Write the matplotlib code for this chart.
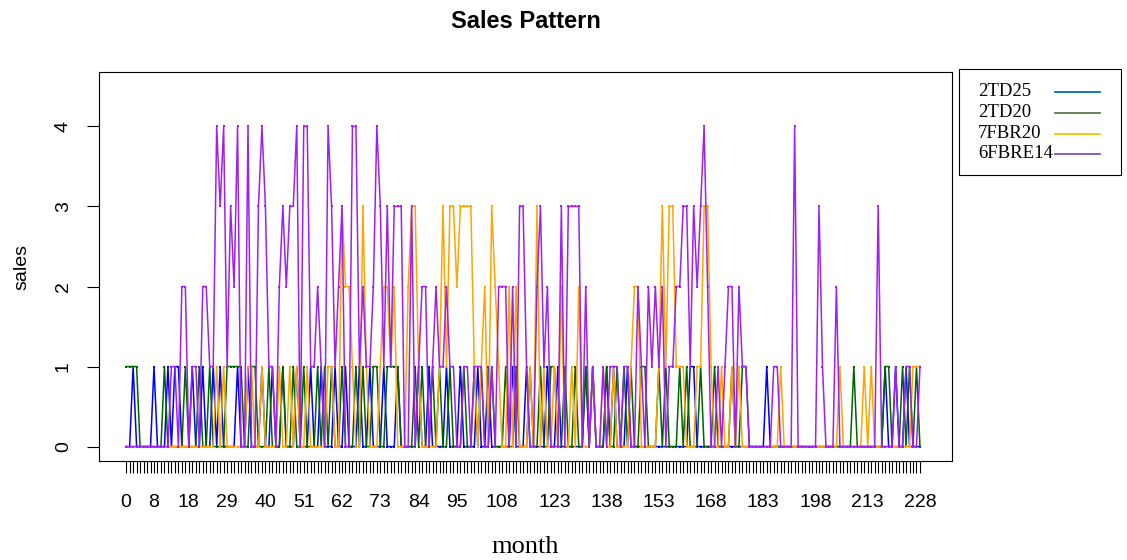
import matplotlib
matplotlib.use("Agg")
import matplotlib.pyplot as plt
from matplotlib.lines import Line2D
from matplotlib.patches import Rectangle
import numpy as np

# monthly sales for four items, months 0..228
month = np.arange(229)

td25 = [0,0,1,0,0,0,0,0,1,0, 0,0,1,0,1,1,0,0,0,1, 0,0,1,0,0,1,0,1,0,0,
        0,0,1,0,0,1,0,0,0,1, 0,0,1,0,0,1,0,0,0,1, 0,0,0,1,0,0,1,0,0,0,
        1,0,0,1,0,0,0,1,0,0, 1,0,0,0,1,0,0,0,1,0, 0,0,0,0,1,0,0,1,0,0,
        0,0,1,0,0,0,1,0,0,0, 0,1,0,0,1,0,0,0,0,0, 0,1,0,0,0,1,0,0,0,0,
        0,1,0,0,1,0,0,0,0,0, 0,0,1,0,1,0,0,0,1,0, 1,0,0,0,1,0,0,0,0,0,
        0,0,0,0,0,0,0,0,0,0, 0,0,1,1,0,0,0,0,0,0, 0,0,0,0,0,0,0,0,0,0,
        0,0,0,0,1,0,0,0,0,0, 0,0,0,0,0,0,0,0,0,0, 0,0,0,0,0,0,0,0,0,0,
        0,0,0,0,0,0,0,0,1,0, 0,1,0,0,1,0,0,0,0]

td20 = [1,1,1,1,0,0,0,0,0,0, 0,1,0,0,0,0,0,1,0,0, 0,1,0,0,1,0,0,0,0,1,
        1,1,1,1,0,0,1,1,0,0, 0,1,0,0,0,1,0,0,1,0, 0,1,0,0,0,1,0,1,0,1,
        0,0,1,0,0,0,1,0,1,0, 0,1,1,0,0,1,1,1,1,0, 0,0,0,1,0,1,0,0,1,0,
        1,0,0,1,0,0,0,1,0,0, 1,0,1,0,0,1,0,0,0,1, 0,0,1,0,0,0,1,0,0,1,
        0,0,1,1,0,0,1,0,0,1, 0,0,1,0,1,0,0,0,1,0, 0,1,0,1,0,1,0,0,1,1,
        0,0,0,1,0,1,0,0,0,1, 0,1,0,0,0,1,0,0,0,1, 0,0,0,0,1,0,0,1,1,0,
        0,0,0,0,0,0,0,0,0,0, 0,0,0,0,0,0,0,0,0,0, 0,0,0,0,0,0,0,0,0,1,
        0,0,0,0,0,0,0,0,1,1, 0,0,0,1,0,1,0,1,0]

fbr20 = [0,0,0,0,0,0,0,0,0,0, 0,0,0,0,0,0,0,0,0,0, 0,0,0,0,0,0,1,0,1,0,
         0,0,0,0,0,1,1,0,0,1, 0,0,0,0,1,0,0,1,0,1, 0,0,1,0,0,0,0,0,1,1,
         0,0,3,2,2,1,0,0,3,1, 0,0,0,1,2,2,1,2,0,0, 0,2,3,3,1,0,0,0,0,0,
         1,3,1,3,3,2,3,3,3,3, 1,0,1,2,0,3,2,1,0,0, 2,0,2,0,0,0,1,0,3,0,
         1,0,0,1,0,2,0,0,1,0, 2,0,0,0,1,0,0,1,0,0, 1,0,0,0,0,1,2,2,0,0,
         0,0,0,1,3,1,3,3,1,1, 1,0,0,0,1,1,3,3,1,0, 0,1,0,0,1,0,1,0,0,0,
         0,0,0,0,0,0,0,0,1,0, 0,0,0,0,0,0,0,0,0,0, 0,0,0,0,0,1,0,0,0,0,
         0,0,1,0,1,0,0,0,0,0, 0,0,0,0,0,0,1,1,1]

fbre14 = [0,0,0,0,0,0,0,0,0,0, 0,0,0,1,1,0,2,2,0,1, 1,0,2,2,1,1,4,3,4,1,
          3,2,4,0,0,4,0,0,3,4, 3,1,1,0,2,3,2,3,3,4, 0,4,4,1,1,2,1,0,4,3,
          1,2,3,0,0,4,4,1,2,1, 1,2,4,3,1,3,1,3,3,3, 0,0,3,0,1,2,2,0,1,2,
          1,1,2,1,1,0,0,1,1,0, 1,1,1,0,0,1,0,2,2,2, 0,2,0,3,3,1,0,0,2,3,
          1,2,0,0,0,3,0,3,3,3, 3,0,2,0,1,0,0,1,0,1, 1,1,0,1,1,0,0,2,1,0,
          2,1,2,1,2,0,1,1,2,2, 3,3,1,3,2,3,4,2,0,0, 1,0,1,2,2,0,2,1,1,0,
          0,0,0,0,0,0,1,1,0,0, 0,0,4,0,0,0,0,0,0,3, 1,0,0,0,2,0,0,0,0,0,
          0,0,0,0,0,0,3,0,0,0, 0,1,0,0,1,1,0,0,1]

names = ["2TD25", "2TD20", "7FBR20", "6FBRE14"]
series = [td25, td20, fbr20, fbre14]
line_colors = ["blue", "darkgreen", "orange", "#A020F0"]
key_colors = ["#0070C0", "#5B7B4B", "#FFC000", "#8050C0"]

tick_pos = [0, 8, 18, 29, 40, 51, 62, 73, 84, 95, 108, 123, 138, 153, 168, 183, 198, 213, 228]

W, H = 1127, 560
sans = "Liberation Sans"
serif = "Liberation Serif"

fig = plt.figure(figsize=(W / 100, H / 100), dpi=100)
ax = fig.add_axes([99 / W, 1 - 461 / H, (952 - 99) / W, (461 - 72) / H])

for vals, col in zip(series, line_colors):
    ax.plot(month, vals, color=col, lw=1.1, marker="s", ms=1.6, mew=0)

ax.set_xlim(-7.8, 237.2)
ax.set_ylim(-0.18, 4.68)

ax.set_xticks(tick_pos)
ax.set_xticklabels([str(t) for t in tick_pos], fontfamily=sans, fontsize=14)
ax.set_xticks(month, minor=True)
ax.set_yticks([0, 1, 2, 3, 4])
ax.set_yticklabels(["0", "1", "2", "3", "4"], rotation=90, va="center",
                   fontfamily=sans, fontsize=14)
ax.tick_params(axis="both", which="both", direction="out", length=8.5,
               width=0.8, color="black")
ax.tick_params(axis="x", which="major", pad=15)
ax.tick_params(axis="y", which="major", pad=11)

for sp in ax.spines.values():
    sp.set_linewidth(0.8)

ax.set_xlabel("month", fontfamily=serif, fontsize=19, labelpad=18)
ax.set_ylabel("sales", fontfamily=sans, fontsize=14, labelpad=18)
ax.set_title("Sales Pattern", fontfamily=sans, fontsize=17,
             fontweight="bold", pad=32)

# key box to the right of the plot
fig.add_artist(Rectangle((959 / W, 1 - 175 / H), (1121 - 959) / W, (175 - 69) / H,
                         transform=fig.transFigure, fill=False,
                         edgecolor="black", lw=0.8))
row_y = [91.5, 112.5, 133.5, 153.5]
for name, col, ry in zip(names, key_colors, row_y):
    fig.text(978 / W, 1 - ry / H, name, fontfamily=serif, fontsize=13.5,
             va="center", ha="left")
    fig.add_artist(Line2D([1055 / W, 1100 / W], [1 - ry / H, 1 - ry / H],
                          transform=fig.transFigure, color=col, lw=1.3))

fig.savefig("out.png", dpi=100)
